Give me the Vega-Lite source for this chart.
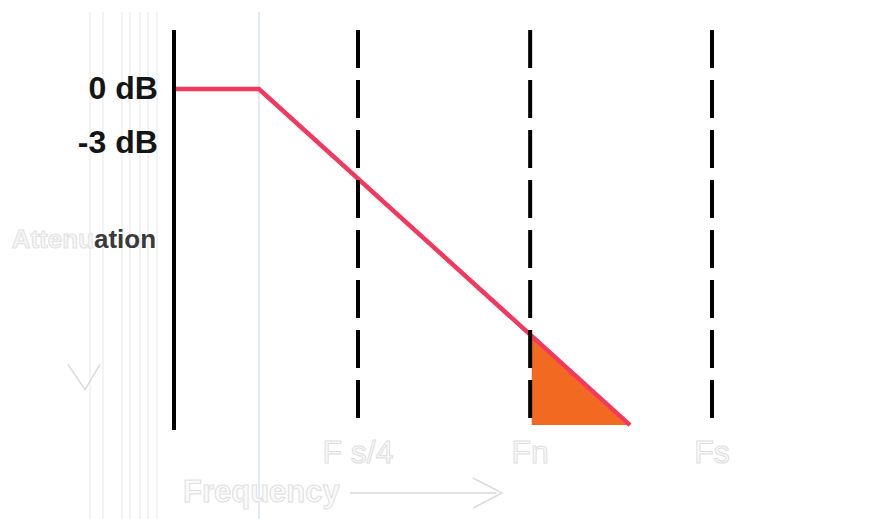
{
  "$schema": "https://vega.github.io/schema/vega-lite/v6.json",
  "width": 869,
  "height": 519,
  "padding": 0,
  "autosize": {"type": "none"},
  "background": "#ffffff",
  "config": {"view": {"stroke": null}},
  "datasets": {
    "guides": [
      {"f": -0.156, "db": 4.28, "db2": -23.889},
      {"f": -0.132, "db": 4.28, "db2": -23.889},
      {"f": -0.0967, "db": 4.28, "db2": -23.889},
      {"f": -0.0818, "db": 4.28, "db2": -23.889},
      {"f": -0.0632, "db": 4.28, "db2": -23.889},
      {"f": -0.0483, "db": 4.28, "db2": -23.889},
      {"f": -0.0316, "db": 4.28, "db2": -23.889}
    ],
    "blueguide": [{"f": 0.158, "db": 4.28, "db2": -23.889}],
    "axisline": [{"f": 0, "db": 3.28, "db2": -18.94}],
    "markers": [
      {"f": 0.342, "db": 3.28, "db2": -18.94},
      {"f": 0.662, "db": 3.28, "db2": -18.94},
      {"f": 1.0, "db": 3.28, "db2": -18.94}
    ],
    "response": [
      {"o": 1, "f": 0, "db": 0},
      {"o": 2, "f": 0.158, "db": 0},
      {"o": 3, "f": 0.8476, "db": -18.67}
    ],
    "alias": [
      {"f": 0.665, "db": -13.75, "db2": -18.67},
      {"f": 0.8476, "db": -18.67, "db2": -18.67}
    ],
    "arrows": [
      {"g": "down", "o": 1, "f": -0.197, "db": -15.3},
      {"g": "down", "o": 2, "f": -0.1654, "db": -16.7},
      {"g": "down", "o": 3, "f": -0.1375, "db": -15.3},
      {"g": "shaft", "o": 1, "f": 0.327, "db": -22.44},
      {"g": "shaft", "o": 2, "f": 0.6, "db": -22.44},
      {"g": "head", "o": 1, "f": 0.5558, "db": -21.61},
      {"g": "head", "o": 2, "f": 0.6097, "db": -22.44},
      {"g": "head", "o": 3, "f": 0.5558, "db": -23.28}
    ],
    "dblabels": [
      {"f": -0.03, "db": 0, "label": "0 dB"},
      {"f": -0.03, "db": -3, "label": "-3 dB"}
    ],
    "freqlabels": [
      {"f": 0.342, "db": -20.22, "label": "F s/4"},
      {"f": 0.662, "db": -20.22, "label": "Fn"},
      {"f": 1.0, "db": -20.22, "label": "Fs"}
    ],
    "xtitle": [{"f": 0.0167, "db": -22.44, "label": "Frequency"}],
    "ytitle": [{"f": -0.1487, "db": -8.39, "label": "Attenu"}],
    "ytitlepart": [{"f": -0.1487, "db": -8.39, "label": "ation"}]
  },
  "encoding": {
    "x": {"field": "f", "type": "quantitative", "scale": {"domain": [-0.32342, 1.29182], "nice": false, "zero": false}, "axis": null},
    "y": {"field": "db", "type": "quantitative", "scale": {"domain": [-23.889, 4.944], "nice": false, "zero": false}, "axis": null}
  },
  "layer": [
    {
      "data": {"name": "guides"},
      "mark": {"type": "rule", "color": "#e6e6e6", "strokeWidth": 1},
      "encoding": {"y2": {"field": "db2"}}
    },
    {
      "data": {"name": "blueguide"},
      "mark": {"type": "rule", "color": "#dbe4ee", "strokeWidth": 1.5},
      "encoding": {"y2": {"field": "db2"}}
    },
    {
      "data": {"name": "alias"},
      "mark": {"type": "area", "color": "#f26a21", "opacity": 1},
      "encoding": {"y2": {"field": "db2"}}
    },
    {
      "data": {"name": "response"},
      "mark": {"type": "line", "color": "#f2385e", "strokeWidth": 4.5},
      "encoding": {"order": {"field": "o", "type": "quantitative"}}
    },
    {
      "data": {"name": "axisline"},
      "mark": {"type": "rule", "color": "#000000", "strokeWidth": 4},
      "encoding": {"y2": {"field": "db2"}}
    },
    {
      "data": {"name": "markers"},
      "mark": {"type": "rule", "color": "#000000", "strokeWidth": 4, "strokeDash": [38, 12]},
      "encoding": {"y2": {"field": "db2"}}
    },
    {
      "data": {"name": "arrows"},
      "mark": {"type": "line", "color": "#dadada", "strokeWidth": 1.5},
      "encoding": {
        "detail": {"field": "g", "type": "nominal"},
        "order": {"field": "o", "type": "quantitative"}
      }
    },
    {
      "data": {"name": "dblabels"},
      "mark": {"type": "text", "align": "right", "baseline": "middle", "font": "Liberation Sans", "fontWeight": "bold", "fontSize": 32, "color": "#151515"},
      "encoding": {"text": {"field": "label"}}
    },
    {
      "data": {"name": "ytitle"},
      "mark": {"type": "text", "align": "right", "baseline": "middle", "font": "Liberation Sans", "fontWeight": "bold", "fontSize": 26, "fill": "#f6f6f6", "stroke": "#e2e2e2", "strokeWidth": 1},
      "encoding": {"text": {"field": "label"}}
    },
    {
      "data": {"name": "ytitlepart"},
      "mark": {"type": "text", "align": "left", "baseline": "middle", "font": "Liberation Sans", "fontWeight": "bold", "fontSize": 26, "color": "#3a3a3a"},
      "encoding": {"text": {"field": "label"}}
    },
    {
      "data": {"name": "freqlabels"},
      "mark": {"type": "text", "align": "center", "baseline": "middle", "font": "Liberation Sans", "fontSize": 32, "fill": "#fafafa", "stroke": "#dedede", "strokeWidth": 1},
      "encoding": {"text": {"field": "label"}}
    },
    {
      "data": {"name": "xtitle"},
      "mark": {"type": "text", "align": "left", "baseline": "middle", "font": "Liberation Sans", "fontWeight": "bold", "fontSize": 31, "fill": "#fafafa", "stroke": "#e0e0e0", "strokeWidth": 1},
      "encoding": {"text": {"field": "label"}}
    }
  ]
}
